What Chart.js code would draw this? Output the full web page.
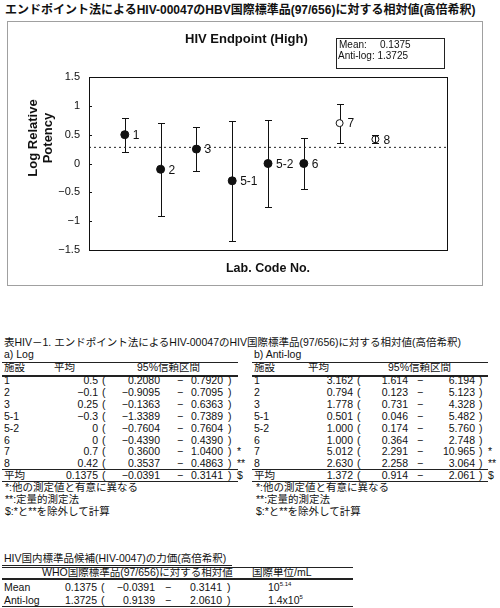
<!DOCTYPE html>
<html lang="ja">
<head>
<meta charset="utf-8">
<title>HIV Endpoint (High)</title>
<script src="https://cdn.jsdelivr.net/npm/chart.js@4.4.1/dist/chart.umd.min.js"></script>
<style>
  body { margin: 0; background: #fff; }
  #page { position: relative; width: 500px; height: 608px; overflow: hidden;
          font-family: "Liberation Sans", Arial, "Noto Sans CJK JP", sans-serif; color: #111; }
  .t { position: absolute; white-space: nowrap; font-size: 10.5px; line-height: 14px; height: 14px; }
  .hl { position: absolute; background: #222; height: 1px; }
  #frame { position: absolute; left: 7px; top: 21px; width: 474px; height: 263px; border: 1px solid #a0a0a0; }
  #chart { position: absolute; left: 7px; top: 21px; }
  #ytitle { position: absolute; left: -10px; top: 123px; width: 100px; height: 30px; transform: rotate(-90deg);
            text-align: center; font: bold 13px/15px "Liberation Sans", Arial, sans-serif; }
  #legendBox { position: absolute; left: 336px; top: 38px; width: 107px; height: 29px; border: 1px solid #222; }
  sup { font-size: 6px; vertical-align: baseline; position: relative; top: -5px; }
</style>
</head>
<body>
<div id="page">
  <div id="frame"></div>
  <canvas id="chart" width="475" height="264"></canvas>
  <div id="ytitle">Log Relative<br>Potency</div>
  <div id="legendBox"></div>
</div>
<script>
// Lab results, log relative potency vs WHO 97/656
const labCodes = ['1', '2', '3', '5-1', '5-2', '6', '7', '8'];
const logMean = [0.5, -0.1, 0.25, -0.3, 0, 0, 0.7, 0.42];
const logLow = [0.2080, -0.9095, -0.1363, -1.3389, -0.7604, -0.4390, 0.3600, 0.3537];
const logHigh = [0.7920, 0.7095, 0.6363, 0.7389, 0.7604, 0.4390, 1.0400, 0.4863];
const flags = ['', '', '', '', '', '', '*', '**'];

// Anti-log table
const antiMean = [3.162, 0.794, 1.778, 0.501, 1.000, 1.000, 5.012, 2.630];
const antiLow = [1.614, 0.123, 0.731, 0.046, 0.174, 0.364, 2.291, 2.258];
const antiHigh = [6.194, 5.123, 4.328, 5.482, 5.760, 2.748, 10.965, 3.064];

// Summary values
const logSummary = [0.1375, -0.0391, 0.3141];
const antiSummary = [1.372, 0.914, 2.061];
const potencyLog = [0.1375, -0.0391, 0.3141];
const potencyAnti = [1.3725, 0.9139, 2.0610];

// Dotted reference line as drawn, and axis range
const refLine = 0.28;
const yRange = [-1.5, 1.5];
const yStep = 0.5;

const page = document.getElementById('page');

function put(text, x, y, align, extra) {
    const el = document.createElement('div');
    el.className = 't';
    el.innerHTML = text;
    el.style.top = (y - 8) + 'px';
    if (align === 'r') el.style.right = (500 - x) + 'px';
    else el.style.left = x + 'px';
    if (extra) el.style.cssText += extra;
    page.appendChild(el);
    return el;
}

function hline(x1, x2, y, w) {
    const el = document.createElement('div');
    el.className = 'hl';
    el.style.left = x1 + 'px';
    el.style.width = (x2 - x1) + 'px';
    el.style.top = y + 'px';
    el.style.height = (w || 1) + 'px';
    page.appendChild(el);
}

const fmtMinus = s => s.replace('-', '\u2212');

// Headings
put('エンドポイント法によるHIV-00047のHBV国際標準品(97/656)に対する相対値(高倍希釈)', 5, 11, 'l',
    'font-size:12px;font-weight:bold;');
put('HIV Endpoint (High)', 185, 40, 'l', 'font-size:13px;font-weight:bold;');
put('Mean:', 339, 46, 'l', 'font-size:10px;');
put(logSummary[0].toFixed(4), 380, 46, 'l', 'font-size:10px;');
put('Anti-log: ' + potencyAnti[0].toFixed(4), 338, 57, 'l', 'font-size:10px;');

// Tables a) and b)
put('表HIV－1. エンドポイント法によるHIV-00047のHIV国際標準品(97/656)に対する相対値(高倍希釈)', 4, 343, 'l');
put('a) Log', 4, 355, 'l');
put('b) Anti-log', 254, 355, 'l');
hline(2, 238, 362);
hline(252, 488, 362);
put('施設', 4, 368, 'l');
put('平均', 54, 368, 'l');
put('95%信頼区間', 137, 368, 'l');
put('施設', 254, 368, 'l');
put('平均', 308, 368, 'l');
put('95%信頼区間', 388, 368, 'l');
hline(2, 238, 375, 2);
hline(252, 488, 375, 2);

const rowY = i => 381 + 11.9 * i;
labCodes.forEach((code, i) => {
    const y = rowY(i);
    put(code, 4, y, 'l');
    put(fmtMinus(String(logMean[i])), 98, y, 'r');
    put('(', 102, y, 'l');
    put(fmtMinus(logLow[i].toFixed(4)), 160, y, 'r');
    put('\u2212', 177, y, 'l');
    put(logHigh[i].toFixed(4), 223, y, 'r');
    put(')', 228, y, 'l');
    put(flags[i], 237, y, 'l');

    put(code, 254, y, 'l');
    put(antiMean[i].toFixed(3), 353, y, 'r');
    put('(', 357, y, 'l');
    put(antiLow[i].toFixed(3), 408, y, 'r');
    put('\u2212', 417, y, 'l');
    put(antiHigh[i].toFixed(3), 475, y, 'r');
    put(')', 479, y, 'l');
    put(flags[i], 488, y, 'l');
});
hline(2, 238, 469);
hline(252, 488, 469);
const sy = rowY(8);
put('平均', 4, sy, 'l');
put(logSummary[0].toFixed(4), 98, sy, 'r');
put('(', 102, sy, 'l');
put(fmtMinus(logSummary[1].toFixed(4)), 160, sy, 'r');
put('\u2212', 177, sy, 'l');
put(logSummary[2].toFixed(4), 223, sy, 'r');
put(')', 228, sy, 'l');
put('$', 237, sy, 'l');
put('平均', 254, sy, 'l');
put(antiSummary[0].toFixed(3), 353, sy, 'r');
put('(', 357, sy, 'l');
put(antiSummary[1].toFixed(3), 408, sy, 'r');
put('\u2212', 417, sy, 'l');
put(antiSummary[2].toFixed(3), 475, sy, 'r');
put(')', 479, sy, 'l');
put('$', 488, sy, 'l');
hline(2, 238, 481);
hline(252, 488, 481);

const notes = ['*:他の測定値と有意に異なる', '**:定量的測定法', '$:*と**を除外して計算'];
notes.forEach((n, k) => {
    put(n, 5, rowY(9 + k), 'l');
    put(n, 256, rowY(9 + k), 'l');
});

// Potency table
put('HIV国内標準品候補(HIV-0047)の力価(高倍希釈)', 4, 559, 'l');
hline(2, 232, 565);
hline(2, 353, 567);
put('WHO国際標準品(97/656)に対する相対値', 42, 573, 'l');
put('国際単位/mL', 252, 573, 'l');
hline(2, 353, 578, 2);
[['Mean', potencyLog, '10<sup>5.14</sup>'], ['Anti-log', potencyAnti, '1.4x10<sup>5</sup>']].forEach((r, k) => {
    const y = 588 + 13 * k;
    put(r[0], 4, y, 'l');
    put(r[1][0].toFixed(4), 97, y, 'r');
    put('(', 101, y, 'l');
    put(fmtMinus(r[1][1].toFixed(4)), 155, y, 'r');
    put('\u2212', 165, y, 'l');
    put(r[1][2].toFixed(4), 222, y, 'r');
    put(')', 227, y, 'l');
    put(r[2], 268, y, 'l');
});
hline(2, 353, 606);

// Error bars, point labels and plot frame
const errorBars = {
    id: 'errorBars',
    beforeDatasetsDraw(chart) {
        const { ctx, scales: { x, y } } = chart;
        ctx.save();
        ctx.strokeStyle = '#111';
        ctx.lineWidth = 1;
        labCodes.forEach((code, i) => {
            const px = Math.round(x.getPixelForValue(i + 1)) + 0.5;
            const top = Math.round(y.getPixelForValue(logHigh[i])) + 0.5;
            const bot = Math.round(y.getPixelForValue(logLow[i])) + 0.5;
            ctx.beginPath();
            ctx.moveTo(px, top); ctx.lineTo(px, bot);
            ctx.moveTo(px - 3.5, top); ctx.lineTo(px + 3.5, top);
            ctx.moveTo(px - 3.5, bot); ctx.lineTo(px + 3.5, bot);
            ctx.stroke();
        });
        ctx.restore();
    },
    afterDatasetsDraw(chart) {
        const { ctx, chartArea: a, scales: { x, y } } = chart;
        ctx.save();
        ctx.fillStyle = '#111';
        ctx.font = '12px "Liberation Sans", Arial, sans-serif';
        ctx.textBaseline = 'middle';
        labCodes.forEach((code, i) => {
            ctx.fillText(code, x.getPixelForValue(i + 1) + 8, y.getPixelForValue(logMean[i]) + 1);
        });
        ctx.strokeStyle = '#111';
        ctx.lineWidth = 1;
        ctx.strokeRect(Math.round(a.left) + 0.5, Math.round(a.top) + 0.5,
            Math.round(a.right - a.left), Math.round(a.bottom - a.top));
        ctx.beginPath();
        y.ticks.forEach(t => {
            const py = Math.round(y.getPixelForValue(t.value)) + 0.5;
            ctx.moveTo(a.left, py); ctx.lineTo(a.left + 3, py);
        });
        ctx.stroke();
        ctx.restore();
    }
};

new Chart(document.getElementById('chart'), {
    data: {
        datasets: [
            {
                type: 'scatter',
                data: logMean.map((v, i) => ({ x: i + 1, y: v })),
                pointRadius: flags.map(f => f ? 3.5 : 4),
                pointBackgroundColor: flags.map(f => f === '**' ? 'rgba(255,255,255,0)' : (f ? '#fff' : '#111')),
                pointBorderColor: '#111',
                pointBorderWidth: 1
            },
            {
                type: 'line',
                data: [{ x: 0, y: refLine }, { x: 10, y: refLine }],
                borderColor: '#222',
                borderWidth: 1,
                borderDash: [2, 3],
                pointRadius: 0
            }
        ]
    },
    options: {
        responsive: false,
        animation: false,
        layout: { padding: { left: 0, top: 56, right: 35, bottom: 0 } },
        plugins: { legend: { display: false }, tooltip: { enabled: false } },
        scales: {
            x: {
                type: 'linear',
                min: 0,
                max: 10,
                grid: { display: false, drawTicks: false },
                border: { display: true, color: '#111' },
                ticks: { display: false },
                title: {
                    display: true,
                    text: 'Lab. Code No.',
                    color: '#111',
                    font: { family: '"Liberation Sans", Arial, sans-serif', size: 12.5, weight: 'bold' },
                    padding: { top: 0, bottom: 9 }
                },
                afterFit(scale) { scale.height = 35; }
            },
            y: {
                min: yRange[0],
                max: yRange[1],
                grid: { display: false, drawTicks: false },
                border: { display: true, color: '#111' },
                ticks: {
                    stepSize: yStep,
                    padding: 9,
                    color: '#111',
                    font: { family: '"Liberation Sans", Arial, sans-serif', size: 11 },
                    callback: v => fmtMinus(String(v))
                },
                afterFit(scale) { scale.width = 82; }
            }
        }
    },
    plugins: [errorBars]
});
</script>
</body>
</html>
